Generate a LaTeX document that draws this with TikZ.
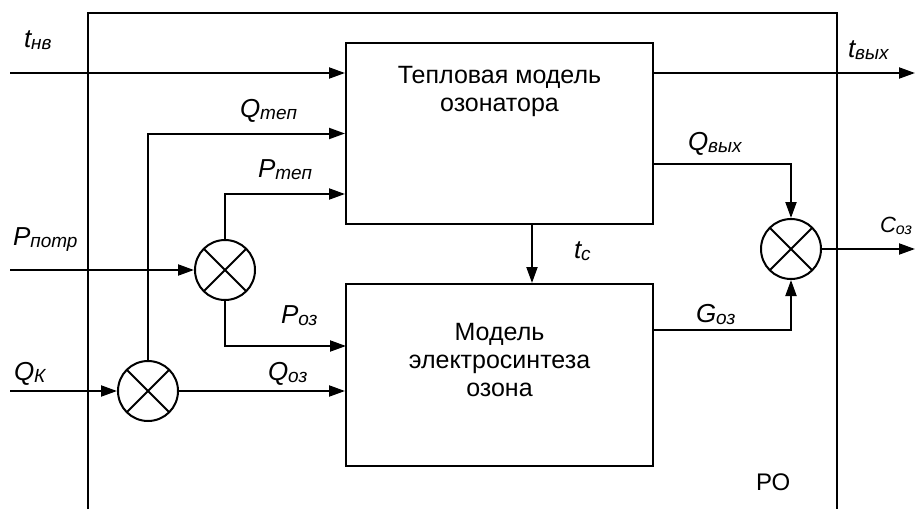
\documentclass[tikz,border=0pt]{standalone}
\usepackage{fontspec}
\setmainfont{Liberation Sans}
\usetikzlibrary{arrows.meta, positioning, calc}

\newcommand{\sgn}[2]{\textit{#1\raisebox{-2pt}{\fontsize{19}{19}\selectfont #2}}}

\begin{document}
\begin{tikzpicture}[
  x=1pt, y=-1pt,
  line width=2pt,
  every node/.style={font=\fontsize{26}{28}\selectfont, inner sep=0pt},
  block/.style={rectangle, draw, line width=2pt, minimum width=307pt, minimum height=181pt},
  blocktext/.style={align=center, font=\fontsize{25}{28}\selectfont},
  mult/.style={circle, draw, line width=2pt, minimum size=60pt, path picture={\draw[line width=2pt] (path picture bounding box.north west) -- (path picture bounding box.south east) (path picture bounding box.north east) -- (path picture bounding box.south west);}},
  sig/.style={-{Triangle[length=16pt, width=11pt]}, line width=2pt},
  lbl/.style={anchor=base west},
]
\useasboundingbox (0,0) rectangle (916,509);

% Frame of the reactor
\draw (88,509) -- (88,13) -- (837,13) -- (837,509);
\node[font=\fontsize{24}{24}\selectfont, lbl] (ro) at (755,490) {РО};

% Blocks
\node[block] (therm) at (499.5,133.5) {};
\node[blocktext] (thermtxt) at (499.5,91) {Тепловая модель\\озонатора};
\node[block, minimum height=182pt] (ozon) at (499.5,375) {};
\node[blocktext] (ozontxt) at (499.5,360) {Модель\\электросинтеза\\озона};

% Multipliers
\node[mult] (mp) at (225,270) {};
\node[mult] (mq) at (148,391) {};
\node[mult] (mc) at (791,249) {};

% Inputs
\coordinate (tnv) at (10,73);
\coordinate (pin) at (10,270);
\coordinate (qk) at (10,391);
\coordinate (poz) at (346,346);

\draw[sig] (tnv) -- (tnv -| therm.west);
\draw[sig] (pin) -- (mp.west);
\draw[sig] (qk) -- (mq.west);
\draw[sig] (mq.north) |- (therm.west);
\draw[sig] (mp.north) |- ([yshift=-60.5pt]therm.west);
\draw[sig] (mp.south) |- (poz);
\draw[sig] (mq.east) -- (mq.east -| ozon.west);

% Coupling between the models
\coordinate (tc) at (532,224);
\draw[sig] (tc) -- (tc |- ozon.north);

% Outputs
\coordinate (tout) at (915,73);
\coordinate (cout) at (915,249);
\draw[sig] (tout -| therm.east) -- (tout);
\draw[sig] ([yshift=-30.5pt]therm.east) -| (mc.north);
\draw[sig] ([yshift=45pt]ozon.east) -| (mc.south);
\draw[sig] (mc.east) -- (cout);

% Signal labels
\node[lbl] (ltnv) at (23,47) {\sgn{t}{нв}};
\node[lbl] (lqtep) at (239,117) {\sgn{Q}{теп}};
\node[lbl] (lptep) at (257,177) {\sgn{P}{теп}};
\node[lbl] (lppotr) at (12,245) {\sgn{P}{потр}};
\node[lbl] (lpoz) at (280,323) {\sgn{P}{оз}};
\node[lbl] (lqk) at (13,380) {\sgn{Q}{К}};
\node[lbl] (lqoz) at (267,380) {\sgn{Q}{оз}};
\node[lbl] (ltc) at (573,258) {\sgn{t}{c}};
\node[lbl] (ltvyh) at (847,57) {\sgn{t}{вых}};
\node[lbl] (lqvyh) at (687,150) {\sgn{Q}{вых}};
\node[lbl] (lgoz) at (695,322) {\sgn{G}{оз}};
\node[lbl, font=\fontsize{22}{22}\selectfont] (lcoz) at (879,232) {\textit{C\raisebox{-2pt}{\fontsize{16}{16}\selectfont оз}}};

\end{tikzpicture}
\end{document}
